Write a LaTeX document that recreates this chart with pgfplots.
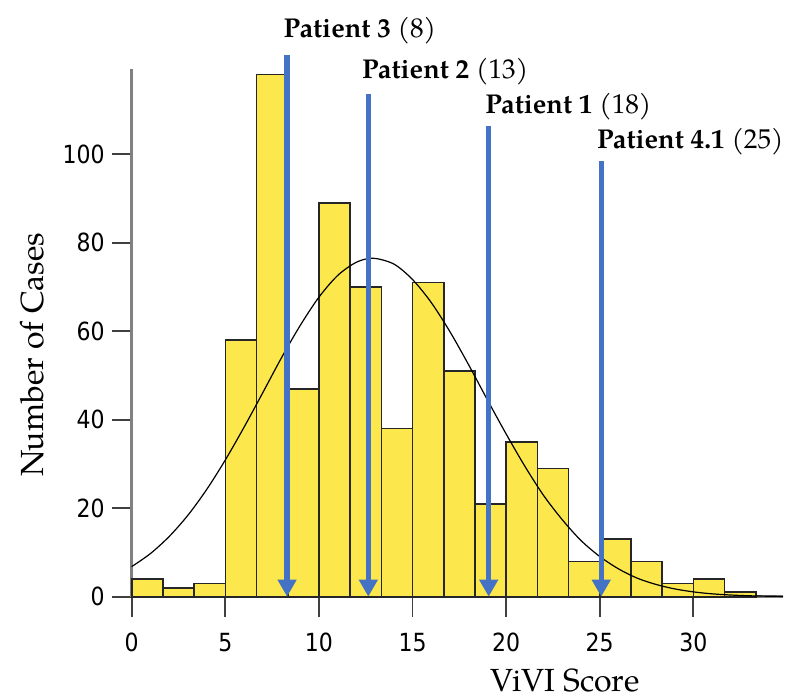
\documentclass[border=0pt]{standalone}
\usepackage{pgfplots}
\pgfplotsset{compat=1.18}
\usetikzlibrary{arrows.meta}
\usepackage{fontspec}
\setmainfont{texgyrepagella}[Extension=.otf, UprightFont=*-regular, BoldFont=*-bold, ItalicFont=*-italic, BoldItalicFont=*-bolditalic]
\newfontfamily\tickfont{DejaVu Sans}[FakeStretch=0.88]
\definecolor{baryellow}{RGB}{252,232,76}
\definecolor{arrowblue}{RGB}{68,114,196}
\definecolor{axgray}{RGB}{128,128,128}
\begin{document}
\begin{tikzpicture}
\path[use as bounding box] (0,0) rectangle (392.5pt,348.5pt);
\begin{axis}[
  at={(65.85pt,50.15pt)}, anchor=south west,
  x=9.36pt, y=2.212pt,
  xmin=0, xmax=34.8, ymin=0, ymax=119.2,
  enlargelimits=false,
  axis lines=left,
  axis line style={-, axgray, line width=1.5pt},
  tick style={axgray!50!black, line width=0.9pt},
  tick align=outside,
  major tick length=10pt,
  xtick={0,5,...,30}, ytick={0,20,...,100},
  minor tick num=0,
  ticklabel style={font=\tickfont\fontsize{12.5}{12.5}\selectfont, text=black},
  xticklabel style={inner ysep=8pt},
  /pgf/number format/assume math mode=true,
  clip=false,
]
\addplot[ybar interval, fill=baryellow, draw=black!85, line width=0.8pt] coordinates {
  (0,4) (1.6667,2) (3.3333,3) (5,58) (6.6667,118) (8.3333,47) (10,89)
  (11.6667,70) (13.3333,38) (15,71) (16.6667,51) (18.3333,21) (20,35)
  (21.6667,29) (23.3333,8) (25,13) (26.6667,8) (28.3333,3) (30,4)
  (31.6667,1) (33.3333,1)
};
\addplot[black, line width=0.6pt, smooth] coordinates {
  (0,6.8) (1,9.75) (2,13.6) (3,18.4) (4,24.2) (5,30.9) (6,38.3) (7,46.1)
  (8,54.0) (9,61.3) (10,67.7) (11,72.6) (12,75.6) (12.9,76.5) (14,75.2)
  (15,71.7) (16,66.5) (17,59.9) (18,52.4) (19,44.5) (20,36.8) (21,29.5)
  (22,22.9) (23,17.4) (24,12.7) (25,9.1) (26,6.3) (27,4.2) (28,2.78)
  (29,1.77) (30,1.09) (31,0.65) (32,0.38) (33,0.21) (34,0.11) (34.8,0.06)
};
\addplot[arrowblue, line width=2.6pt, -{Triangle[width=9pt,length=8.5pt]}] coordinates {(8.3,122.5) (8.3,0)};
\addplot[arrowblue, line width=2.6pt, -{Triangle[width=9pt,length=8.5pt]}] coordinates {(12.64,113.7) (12.64,0)};
\addplot[arrowblue, line width=2.6pt, -{Triangle[width=9pt,length=8.5pt]}] coordinates {(19.07,106.5) (19.07,0)};
\addplot[arrowblue, line width=2.6pt, -{Triangle[width=9pt,length=8.5pt]}] coordinates {(25.08,98.4) (25.08,0)};
\node[anchor=base west, inner sep=0pt, font=\fontsize{13.6}{13.6}\selectfont] at (axis cs:8.1,126.4) {\textbf{Patient 3} (8)};
\node[anchor=base west, inner sep=0pt, font=\fontsize{13.6}{13.6}\selectfont] at (axis cs:12.29,117.2) {\textbf{Patient 2} (13)};
\node[anchor=base west, inner sep=0pt, font=\fontsize{13.6}{13.6}\selectfont] at (axis cs:18.87,109.3) {\textbf{Patient 1} (18)};
\node[anchor=base west, inner sep=0pt, font=\fontsize{13.6}{13.6}\selectfont] at (axis cs:24.84,101.2) {\textbf{Patient 4.1} (25)};
\end{axis}
\node[rotate=90, inner sep=0pt, font=\fontsize{16}{16}\selectfont] at (16pt,171.25pt) {Number of Cases};
\node[anchor=base, inner sep=0pt, font=\fontsize{16}{16}\selectfont] at (282.5pt,3pt) {ViVI Score};
\end{tikzpicture}
\end{document}
